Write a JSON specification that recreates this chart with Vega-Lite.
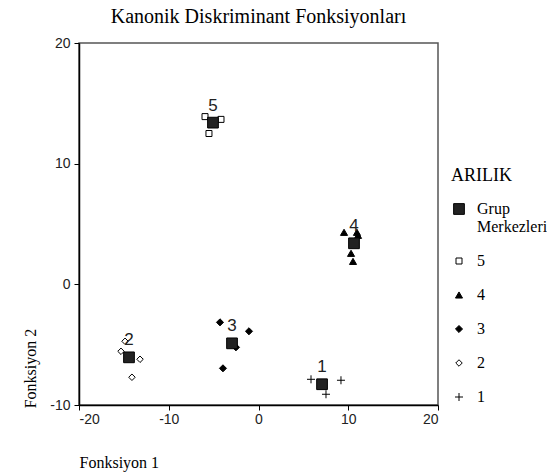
{
  "$schema": "https://vega.github.io/schema/vega-lite/v6.json",
  "width": 359,
  "height": 362,
  "autosize": "none",
  "padding": {"left": 79, "top": 43, "right": 109, "bottom": 68},
  "background": "white",
  "title": {
    "text": "Kanonik Diskriminant Fonksiyonları",
    "font": "Liberation Serif",
    "fontSize": 20,
    "fontWeight": "normal",
    "color": "black",
    "anchor": "middle",
    "offset": 9
  },
  "config": {
    "view": {"stroke": "#555", "strokeWidth": 1.5},
    "axis": {
      "grid": false,
      "domainColor": "black",
      "domainWidth": 1.5,
      "tickColor": "black",
      "tickSize": 5,
      "labelFont": "Liberation Sans",
      "labelFontSize": 14,
      "labelColor": "#222",
      "labelExpr": "replace(datum.label, '\u2212', '-')",
      "titleFont": "Liberation Serif",
      "titleFontSize": 16,
      "titleFontWeight": "normal",
      "titleColor": "black"
    }
  },
  "data": {
    "values": [
      {"ARILIK": "5", "x": -5.96, "y": 13.9},
      {"ARILIK": "5", "x": -4.18, "y": 13.67},
      {"ARILIK": "5", "x": -5.52, "y": 12.5},
      {"ARILIK": "4", "x": 9.53, "y": 4.31},
      {"ARILIK": "4", "x": 10.97, "y": 4.31},
      {"ARILIK": "4", "x": 11.09, "y": 4.06},
      {"ARILIK": "4", "x": 10.31, "y": 2.57},
      {"ARILIK": "4", "x": 10.53, "y": 1.9},
      {"ARILIK": "3", "x": -4.29, "y": -3.15},
      {"ARILIK": "3", "x": -1.06, "y": -3.89},
      {"ARILIK": "3", "x": -2.51, "y": -5.22},
      {"ARILIK": "3", "x": -3.96, "y": -6.96},
      {"ARILIK": "2", "x": -14.87, "y": -4.72},
      {"ARILIK": "2", "x": -15.32, "y": -5.55},
      {"ARILIK": "2", "x": -13.2, "y": -6.21},
      {"ARILIK": "2", "x": -14.1, "y": -7.7},
      {"ARILIK": "1", "x": 5.85, "y": -7.87},
      {"ARILIK": "1", "x": 9.19, "y": -7.95},
      {"ARILIK": "1", "x": 7.52, "y": -9.11},
      {"ARILIK": "Grup Merkezleri", "label": "5", "x": -5.07, "y": 13.4},
      {"ARILIK": "Grup Merkezleri", "label": "4", "x": 10.64, "y": 3.4},
      {"ARILIK": "Grup Merkezleri", "label": "3", "x": -2.95, "y": -4.89},
      {"ARILIK": "Grup Merkezleri", "label": "2", "x": -14.43, "y": -6.05},
      {"ARILIK": "Grup Merkezleri", "label": "1", "x": 7.08, "y": -8.28}
    ]
  },
  "encoding": {
    "x": {
      "field": "x",
      "type": "quantitative",
      "scale": {"domain": [-20, 20], "nice": false},
      "axis": {
        "values": [-20, -10, 0, 10, 20],
        "title": "Fonksiyon 1",
        "titleX": 0,
        "titleY": 57,
        "titleAlign": "left",
        "titleBaseline": "middle",
        "labelPadding": 2
      }
    },
    "y": {
      "field": "y",
      "type": "quantitative",
      "scale": {"domain": [-10, 20], "nice": false},
      "axis": {
        "values": [-10, 0, 10, 20],
        "title": "Fonksiyon 2",
        "titleAngle": -90,
        "titleX": -49,
        "titleY": 325,
        "titleAlign": "center",
        "titleBaseline": "middle",
        "labelPadding": 4
      }
    }
  },
  "layer": [
    {
      "mark": {"type": "point", "filled": true, "stroke": "black", "strokeWidth": 1, "opacity": 1},
      "encoding": {
        "shape": {
          "field": "ARILIK",
          "type": "nominal",
          "scale": {
            "domain": ["Grup Merkezleri", "5", "4", "3", "2", "1"],
            "range": ["square", "square", "triangle-up", "diamond", "diamond", "M-1,0H1M0,-1V1"]
          },
          "legend": {
            "orient": "none",
            "legendX": 372,
            "legendY": 124,
            "title": "ARILIK",
            "titleFont": "Liberation Serif",
            "titleFontSize": 18,
            "titleFontWeight": "normal",
            "titleColor": "black",
            "titlePadding": 16,
            "labelFont": "Liberation Serif",
            "labelFontSize": 16,
            "labelColor": "black",
            "labelOffset": 10,
            "labelExpr": "datum.label == 'Grup Merkezleri' ? ['Grup', 'Merkezleri'] : datum.label",
            "rowPadding": 18,
            "symbolStrokeColor": "black",
            "symbolStrokeWidth": 1
          }
        },
        "fill": {
          "field": "ARILIK",
          "type": "nominal",
          "scale": {
            "domain": ["Grup Merkezleri", "5", "4", "3", "2", "1"],
            "range": ["#222222", "white", "black", "black", "white", "transparent"]
          }
        },
        "size": {
          "field": "ARILIK",
          "type": "nominal",
          "scale": {
            "type": "ordinal",
            "domain": ["Grup Merkezleri", "5", "4", "3", "2", "1"],
            "range": [115, 36, 50, 50, 42, 64]
          }
        }
      }
    },
    {
      "transform": [{"filter": "datum.label != null"}],
      "mark": {"type": "text", "dy": -17, "font": "Liberation Sans", "fontSize": 17, "color": "#222"},
      "encoding": {
        "text": {"field": "label", "type": "nominal"}
      }
    }
  ]
}
